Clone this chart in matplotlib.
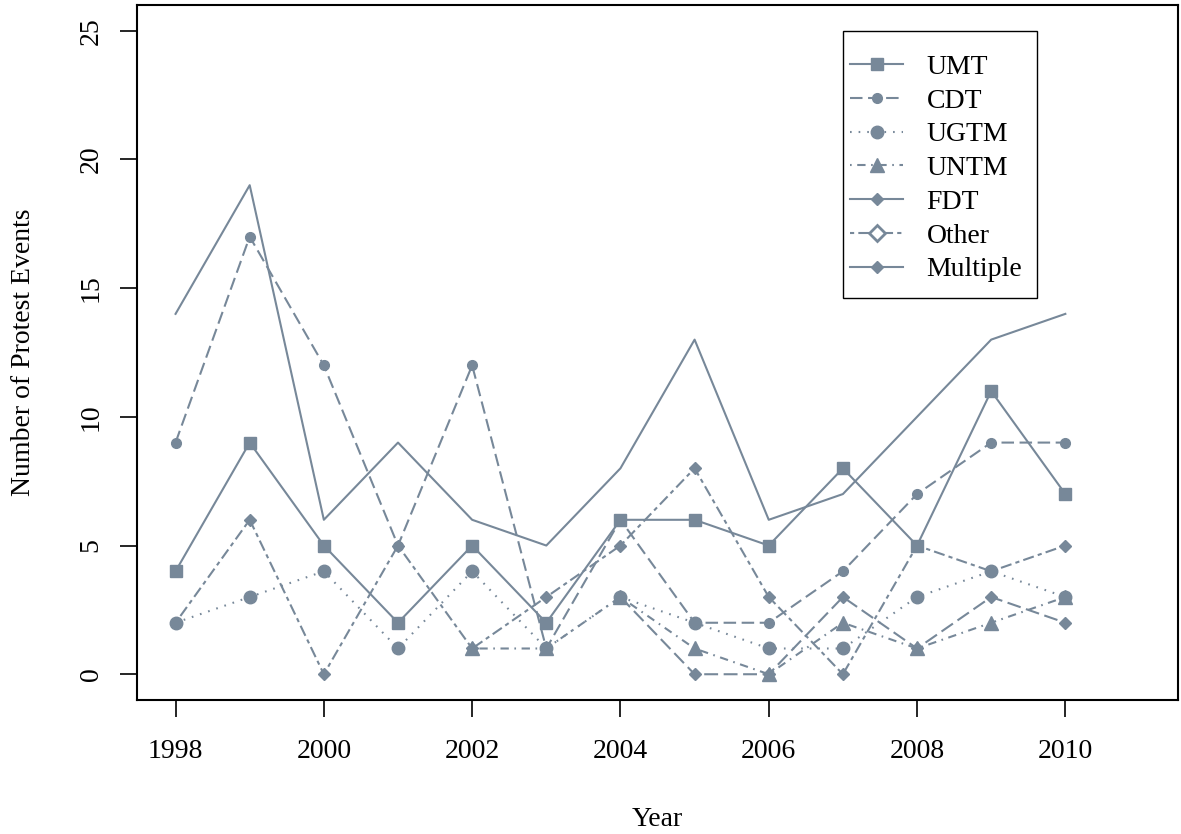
import numpy as np
import matplotlib
matplotlib.use('Agg')
from matplotlib import pyplot as plt
from matplotlib.lines import Line2D
from matplotlib.patches import Rectangle

years = list(range(1998, 2011))
nan = np.nan

umt = [4, 9, 5, 2, 5, 2, 6, 6, 5, 8, 5, 11, 7]
cdt = [9, 17, 12, 5, 12, 1, 6, 2, 2, 4, 7, 9, 9]
ugtm = [2, 3, 4, 1, 4, 1, 3, 2, 1, 1, 3, 4, 3]
untm = [nan, nan, nan, nan, 1, 1, 3, 1, 0, 2, 1, 2, 3]
fdt = [nan, nan, nan, nan, nan, nan, 3, 0, 0, 3, 1, 3, 2]
other = [2, 6, 0, 5, 1, 3, 5, 8, 3, 0, 5, 4, 5]
multiple = [14, 19, 6, 9, 6, 5, 8, 13, 6, 7, 10, 13, 14]

col = '#778899'
plt.rcParams['font.family'] = ['Liberation Serif', 'DejaVu Serif']
plt.rcParams['lines.scale_dashes'] = False

fig = plt.figure(figsize=(11.81, 8.34), dpi=100)
ax = fig.add_axes([0.116, 0.1607, 0.8815, 0.8333])

lw = 1.5
dashed = (0, (9, 4))
dotted = (0, (1.2, 5))
dotdash = (0, (1.2, 4, 6, 4))
longdash = (0, (10, 4))
twodash = (0, (3, 3, 8, 3))

ax.plot(years, umt, color=col, lw=lw, ls='-', marker='s', ms=9)
ax.plot(years, cdt, color=col, lw=lw, ls=dashed, marker='o', ms=7)
ax.plot(years, ugtm, color=col, lw=lw, ls=dotted, marker='o', ms=9)
ax.plot(years, untm, color=col, lw=lw, ls=dotdash, marker='^', ms=10)
ax.plot(years, fdt, color=col, lw=lw, ls=longdash, marker='D', ms=6.5)
ax.plot(years, other, color=col, lw=lw, ls=twodash, marker='D', ms=6.5)
ax.plot(years, multiple, color=col, lw=lw, ls='-')

ax.set_xlim(1997.48, 2011.52)
ax.set_ylim(-1, 26)
ax.set_xticks(range(1998, 2011, 2))
ax.set_yticks(range(0, 26, 5))
ax.tick_params(axis='both', labelsize=20, length=12, width=1.2, direction='out')
for lab in ax.get_yticklabels():
    lab.set_rotation(90)
    lab.set_va('center')
ax.tick_params(axis='x', pad=16)
ax.tick_params(axis='y', pad=12)
for s in ax.spines.values():
    s.set_linewidth(1.5)

ax.set_xlabel('Year', fontsize=20, labelpad=31)
ax.set_ylabel('Number of Protest Events', fontsize=20, labelpad=31)

handles = [
    Line2D([], [], color=col, lw=lw, ls='-', marker='s', ms=9),
    Line2D([], [], color=col, lw=lw, ls=dashed, marker='o', ms=7),
    Line2D([], [], color=col, lw=lw, ls=dotted, marker='o', ms=9),
    Line2D([], [], color=col, lw=lw, ls=dotdash, marker='^', ms=10),
    Line2D([], [], color=col, lw=lw, ls='-', marker='D', ms=6),
    Line2D([], [], color=col, lw=lw, ls=twodash, marker='D', ms=8, mfc='white', mew=2),
    Line2D([], [], color=col, lw=lw, ls='-', marker='D', ms=6),
]
labels = ['UMT', 'CDT', 'UGTM', 'UNTM', 'FDT', 'Other', 'Multiple']
ax.legend(handles, labels, loc='upper left', bbox_to_anchor=(0.685, 0.929),
          fontsize=20, frameon=False, handlelength=1.9, handletextpad=0.85,
          labelspacing=0.3, borderpad=0, borderaxespad=0)
# R-style legend box, tighter at the sides than at top and bottom
ax.add_patch(Rectangle((0.678, 0.578), 0.1866, 0.3846, transform=ax.transAxes,
                       fill=False, edgecolor='black', lw=1.0, zorder=5))

fig.savefig('out.png', dpi=100)
